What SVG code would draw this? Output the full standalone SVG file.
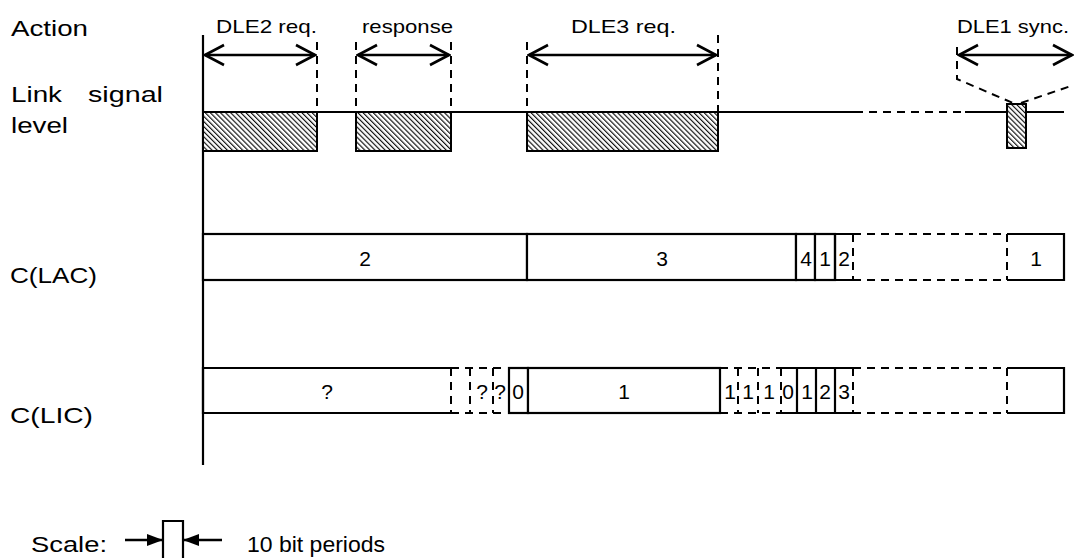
<svg xmlns="http://www.w3.org/2000/svg" width="1074" height="558" viewBox="0 0 1074 558">
<style>
text{font-family:"Liberation Sans",Arial,sans-serif;fill:#000}
.lbl{font-size:22px}
.act{font-size:19px}
.dig{font-size:21px;text-anchor:middle}
.solid{stroke:#000;stroke-width:2.2;fill:none}
.dash{stroke:#000;stroke-width:2;fill:none;stroke-dasharray:8 6}
.box{stroke:#000;stroke-width:2.2;fill:#fff}
.hat{stroke:#000;stroke-width:2;fill:url(#hatch)}
.arr{stroke:#000;stroke-width:2.6;fill:none;marker-start:url(#vs);marker-end:url(#ve)}
</style>
<defs>
<pattern id="hatch" width="3.6" height="3.6" patternUnits="userSpaceOnUse" patternTransform="rotate(-45)">
<rect width="3.6" height="3.6" fill="#fff"/>
<line x1="0.6" y1="0" x2="0.6" y2="3.6" stroke="#000" stroke-width="1.1"/>
</pattern>
<marker id="ve" markerWidth="24" markerHeight="24" viewBox="0 0 24 24" refX="22" refY="12" markerUnits="userSpaceOnUse" orient="auto">
<path d="M3,2 L22,12 L3,22" fill="none" stroke="#000" stroke-width="2.6"/>
</marker>
<marker id="vs" markerWidth="24" markerHeight="24" viewBox="0 0 24 24" refX="2" refY="12" markerUnits="userSpaceOnUse" orient="auto">
<path d="M21,2 L2,12 L21,22" fill="none" stroke="#000" stroke-width="2.6"/>
</marker>
<marker id="fe" markerWidth="16" markerHeight="12" viewBox="0 0 16 12" refX="16" refY="6" markerUnits="userSpaceOnUse" orient="auto">
<path d="M0,0 L16,6 L0,12 Z" fill="#000"/>
</marker>
</defs>
<rect width="1074" height="558" fill="#fff"/>

<g id="row-labels">
<text class="lbl" x="11" y="36" textLength="77" lengthAdjust="spacingAndGlyphs">Action</text>
<text class="lbl" y="102"><tspan x="11" textLength="51" lengthAdjust="spacingAndGlyphs">Link</tspan><tspan x="88" textLength="75" lengthAdjust="spacingAndGlyphs">signal</tspan></text>
<text class="lbl" x="11" y="133" textLength="57" lengthAdjust="spacingAndGlyphs">level</text>
<text class="lbl" x="10" y="283" textLength="87" lengthAdjust="spacingAndGlyphs">C(LAC)</text>
<text class="lbl" x="10" y="423" textLength="83" lengthAdjust="spacingAndGlyphs">C(LIC)</text>
</g>

<g id="axis">
<line class="solid" x1="203" y1="35" x2="203" y2="465"/>
</g>

<g id="action-labels">
<text class="act" x="216" y="33" textLength="101" lengthAdjust="spacingAndGlyphs">DLE2 req.</text>
<text class="act" x="362" y="33" textLength="91" lengthAdjust="spacingAndGlyphs">response</text>
<text class="act" x="571" y="33" textLength="105" lengthAdjust="spacingAndGlyphs">DLE3 req.</text>
<text class="act" x="957" y="33" textLength="112" lengthAdjust="spacingAndGlyphs">DLE1 sync.</text>
</g>

<g id="link-signal">
<line class="solid" x1="203" y1="112" x2="855" y2="112"/>
<line class="dash" x1="855" y1="112" x2="965" y2="112"/>
<line class="solid" x1="965" y1="112" x2="1064" y2="112"/>
<rect id="burst-dle2" class="hat" x="203" y="112" width="114" height="39"/>
<rect id="burst-response" class="hat" x="356" y="112" width="95" height="39"/>
<rect id="burst-dle3" class="hat" x="527" y="112" width="191" height="39"/>
<rect id="burst-dle1" class="hat" x="1007" y="104" width="19" height="44"/>
</g>

<g id="connectors">
<line class="dash" x1="317" y1="42" x2="317" y2="112"/>
<line class="dash" x1="356" y1="42" x2="356" y2="112"/>
<line class="dash" x1="451" y1="42" x2="451" y2="112"/>
<line class="dash" x1="527" y1="42" x2="527" y2="112"/>
<line class="dash" x1="718" y1="35" x2="718" y2="112"/>
<path class="dash" d="M957,47 L957,79 L1013,103"/>
<path class="dash" d="M1021,103 L1074,85"/>
<line class="arr" x1="205" y1="55" x2="315" y2="55"/>
<line class="arr" x1="358" y1="55" x2="449" y2="55"/>
<line class="arr" x1="529" y1="55" x2="716" y2="55"/>
<line class="arr" x1="959" y1="55" x2="1072" y2="55"/>
</g>

<g id="lac">
<rect class="box" x="203" y="234" width="324" height="46"/>
<text class="dig" x="365" y="266">2</text>
<rect class="box" x="527" y="234" width="269" height="46"/>
<text class="dig" x="662" y="266">3</text>
<rect class="box" x="796" y="234" width="19" height="46"/>
<text class="dig" x="806" y="266">4</text>
<rect class="box" x="815" y="234" width="20" height="46"/>
<text class="dig" x="825" y="266">1</text>
<path class="solid" d="M853,234 L835,234 L835,280 L853,280"/>
<text class="dig" x="844" y="266">2</text>
<path class="dash" d="M853,234 L1007,234 M853,280 L1007,280 M853,234 L853,280 M1007,234 L1007,280"/>
<path class="solid" d="M1007,234 L1064,234 L1064,280 L1007,280"/>
<text class="dig" x="1036" y="266">1</text>
</g>

<g id="lic">
<path class="solid" d="M451,368 L203,368 L203,413 L451,413"/>
<text class="dig" x="327" y="399">?</text>
<path class="dash" d="M451,368 L505,368 M451,413 L505,413 M451,368 L451,413 M470,368 L470,413 M493,368 L493,413"/>
<text class="dig" x="482" y="399">?</text>
<text class="dig" x="500" y="399">?</text>
<rect class="box" x="509" y="368" width="19" height="45"/>
<text class="dig" x="518" y="399">0</text>
<rect class="box" x="528" y="368" width="192" height="45"/>
<text class="dig" x="624" y="399">1</text>
<path class="dash" d="M720,368 L781,368 M720,413 L781,413 M738,368 L738,413 M758,368 L758,413 M781,368 L781,413"/>
<text class="dig" x="730" y="399">1</text>
<text class="dig" x="748" y="399">1</text>
<text class="dig" x="769" y="399">1</text>
<path class="solid" d="M781,368 L853,368 M781,413 L853,413 M797,368 L797,413 M816,368 L816,413 M835,368 L835,413"/>
<text class="dig" x="788" y="399">0</text>
<text class="dig" x="807" y="399">1</text>
<text class="dig" x="825" y="399">2</text>
<text class="dig" x="844" y="399">3</text>
<path class="dash" d="M853,368 L1007,368 M853,413 L1007,413 M853,368 L853,413 M1007,368 L1007,413"/>
<path class="solid" d="M1007,368 L1064,368 L1064,413 L1007,413"/>
</g>

<g id="scale">
<text class="lbl" x="31" y="552" textLength="76" lengthAdjust="spacingAndGlyphs">Scale:</text>
<line x1="125" y1="540" x2="163" y2="540" stroke="#000" stroke-width="2.4" marker-end="url(#fe)"/>
<path class="solid" d="M163,560 L163,521 L183,521 L183,560"/>
<line x1="222" y1="540" x2="183" y2="540" stroke="#000" stroke-width="2.4" marker-end="url(#fe)"/>
<text class="lbl" x="247" y="552" textLength="138" lengthAdjust="spacingAndGlyphs">10 bit periods</text>
</g>
</svg>
